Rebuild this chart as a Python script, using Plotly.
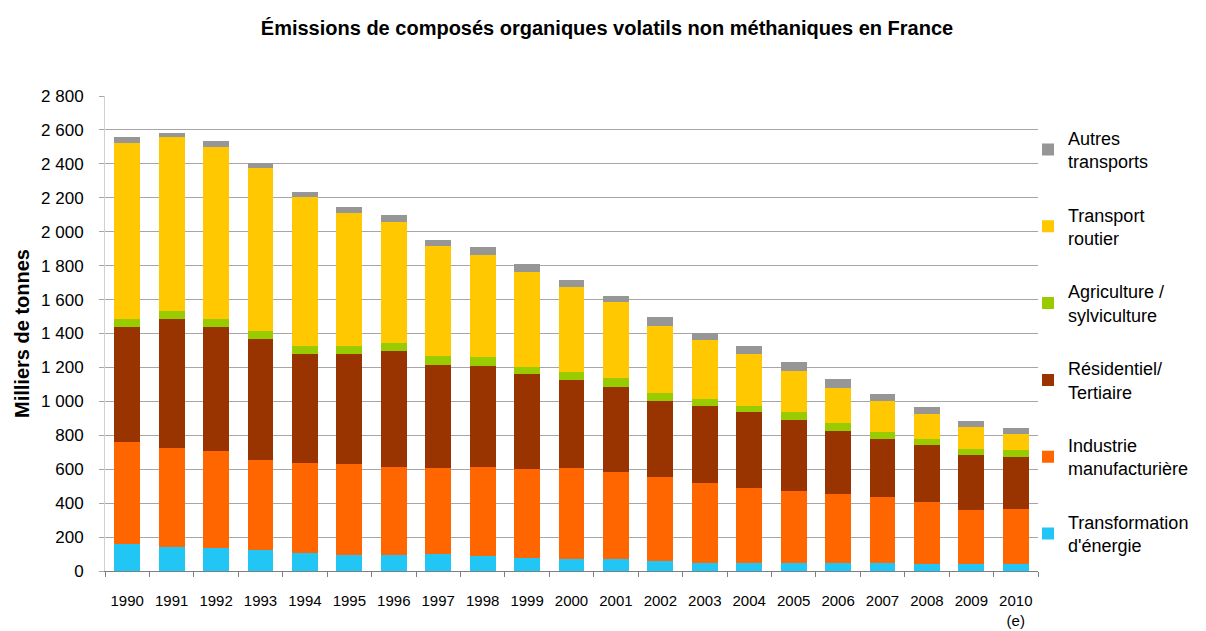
import plotly.graph_objects as go

# Données (milliers de tonnes)
annees = ['1990', '1991', '1992', '1993', '1994', '1995', '1996', '1997', '1998', '1999',
          '2000', '2001', '2002', '2003', '2004', '2005', '2006', '2007', '2008', '2009', '2010']
etiquettes = annees[:-1] + ['2010<br>(e)']

transformation_energie = [157, 140, 134, 122, 104, 94, 94, 98, 90, 78,
                          73, 69, 59, 49, 47, 47, 47, 45, 43, 43, 43]
industrie = [605, 583, 574, 532, 531, 535, 521, 511, 525, 522,
             536, 515, 495, 470, 444, 426, 409, 391, 366, 318, 324]
residentiel = [675, 763, 729, 716, 643, 649, 680, 606, 596, 562,
               519, 503, 450, 454, 447, 417, 371, 342, 332, 321, 307]
agriculture = [49, 47, 49, 45, 49, 49, 51, 53, 49, 43,
               45, 49, 44, 39, 37, 49, 44, 43, 39, 36, 39]
transport_routier = [1036, 1024, 1016, 959, 876, 782, 712, 650, 601, 558,
                     500, 448, 397, 352, 303, 242, 210, 181, 147, 129, 97]
autres_transports = [35, 24, 31, 30, 30, 39, 41, 34, 49, 45,
                     43, 37, 51, 37, 49, 53, 49, 42, 42, 36, 31]

series = [
    ("Transformation<br>d'énergie", transformation_energie, '#21C6F4'),
    ('Industrie<br>manufacturière', industrie, '#FF6600'),
    ('Résidentiel/<br>Tertiaire', residentiel, '#993300'),
    ('Agriculture /<br>sylviculture', agriculture, '#99CC00'),
    ('Transport<br>routier', transport_routier, '#FFC800'),
    ('Autres<br>transports', autres_transports, '#969696'),
]

fig = go.Figure()
for i, (nom, vals, couleur) in enumerate(series):
    # empilement du bas vers le haut, légende du haut vers le bas
    fig.add_trace(go.Bar(
        x=annees, y=vals, name=nom, marker_color=couleur,
        marker_line_width=0, legendgroup='g%d' % i, legendrank=100 - i,
    ))

# la page html ajoute une marge de 8 px autour de la figure
fig.update_layout(
    barmode='stack',
    bargap=0.42,
    width=1198, height=623,
    margin=dict(l=97, r=166, t=88, b=60),
    paper_bgcolor='white', plot_bgcolor='white',
    separators=', ',
    font=dict(family='Arial, Liberation Sans, sans-serif', color='#000000'),
    title=dict(text='<b>Émissions de composés organiques volatils non méthaniques en France</b>',
               x=0.5, xref='container', xanchor='center', y=1 - 20 / 623, yref='container',
               yanchor='middle', font=dict(size=20)),
    legend=dict(x=0.9893, xanchor='left', y=0.9503, yanchor='top',
                traceorder='grouped', tracegroupgap=27,
                font=dict(size=18), bgcolor='rgba(0,0,0,0)'),
    xaxis=dict(tickvals=annees, ticktext=etiquettes, ticks='outside', tickson='boundaries',
               ticklen=5, tickcolor='#7f7f7f', showline=True, linecolor='#7f7f7f',
               tickfont=dict(size=15), ticklabelstandoff=16, showgrid=False,
               automargin=False),
    yaxis=dict(range=[0, 2800], dtick=200, tickformat=',d', showgrid=True,
               gridcolor='#a6a6a6', gridwidth=1, ticks='outside', ticklen=5,
               tickcolor='#a6a6a6', showline=True, linecolor='#d0d0d0',
               tickfont=dict(size=17), zeroline=False, ticklabelstandoff=12,
               automargin=False,
               title=dict(text='<b>Milliers de tonnes</b>', font=dict(size=20), standoff=6)),
)

fig.write_html('out.html')
